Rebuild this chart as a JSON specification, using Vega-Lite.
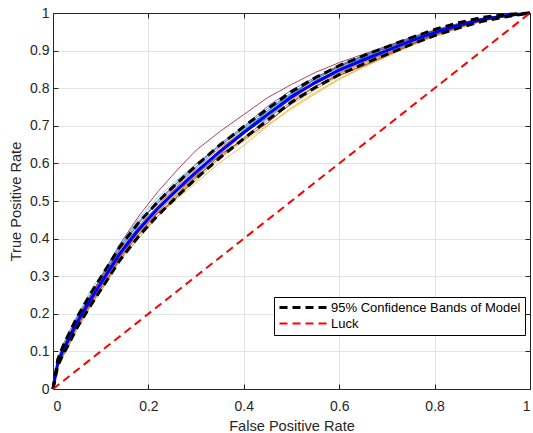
{
  "$schema": "https://vega.github.io/schema/vega-lite/v6.json",
  "width": 477,
  "height": 376,
  "autosize": {"type": "none"},
  "padding": {"left": 53, "top": 13, "right": 3, "bottom": 44},
  "background": "white",
  "config": {
    "view": {"stroke": null},
    "axis": {
      "domainColor": "#262626",
      "tickColor": "#262626",
      "labelColor": "#262626",
      "titleColor": "#262626",
      "labelFont": "Liberation Sans",
      "titleFont": "Liberation Sans",
      "labelFontSize": 14,
      "titleFontSize": 14.6,
      "titleFontWeight": "normal",
      "gridColor": "#e3e3e3"
    },
    "legend": {
      "labelFont": "Liberation Sans",
      "labelFontSize": 13,
      "labelColor": "#000000",
      "labelLimit": 400
    }
  },
  "datasets": {
    "boot": [
      {"r":"r1","x":0,"y":0},{"r":"r1","x":0.01,"y":0.075},{"r":"r1","x":0.02,"y":0.11},{"r":"r1","x":0.03,"y":0.133},{"r":"r1","x":0.05,"y":0.188},{"r":"r1","x":0.08,"y":0.255},{"r":"r1","x":0.11,"y":0.31},{"r":"r1","x":0.14,"y":0.378},{"r":"r1","x":0.18,"y":0.445},{"r":"r1","x":0.22,"y":0.494},{"r":"r1","x":0.26,"y":0.549},{"r":"r1","x":0.3,"y":0.599},{"r":"r1","x":0.35,"y":0.647},{"r":"r1","x":0.4,"y":0.694},{"r":"r1","x":0.45,"y":0.746},{"r":"r1","x":0.5,"y":0.787},{"r":"r1","x":0.55,"y":0.823},{"r":"r1","x":0.6,"y":0.858},{"r":"r1","x":0.65,"y":0.881},{"r":"r1","x":0.7,"y":0.908},{"r":"r1","x":0.75,"y":0.93},{"r":"r1","x":0.8,"y":0.954},{"r":"r1","x":0.85,"y":0.97},{"r":"r1","x":0.9,"y":0.985},{"r":"r1","x":0.95,"y":0.994},{"r":"r1","x":1,"y":1},
      {"r":"r2","x":0,"y":0},{"r":"r2","x":0.01,"y":0.066},{"r":"r2","x":0.02,"y":0.092},{"r":"r2","x":0.03,"y":0.113},{"r":"r2","x":0.05,"y":0.166},{"r":"r2","x":0.08,"y":0.225},{"r":"r2","x":0.11,"y":0.288},{"r":"r2","x":0.14,"y":0.342},{"r":"r2","x":0.18,"y":0.411},{"r":"r2","x":0.22,"y":0.46},{"r":"r2","x":0.26,"y":0.514},{"r":"r2","x":0.3,"y":0.565},{"r":"r2","x":0.35,"y":0.614},{"r":"r2","x":0.4,"y":0.667},{"r":"r2","x":0.45,"y":0.72},{"r":"r2","x":0.5,"y":0.764},{"r":"r2","x":0.55,"y":0.806},{"r":"r2","x":0.6,"y":0.837},{"r":"r2","x":0.65,"y":0.867},{"r":"r2","x":0.7,"y":0.894},{"r":"r2","x":0.75,"y":0.917},{"r":"r2","x":0.8,"y":0.943},{"r":"r2","x":0.85,"y":0.963},{"r":"r2","x":0.9,"y":0.98},{"r":"r2","x":0.95,"y":0.992},{"r":"r2","x":1,"y":1},
      {"r":"r3","x":0,"y":0},{"r":"r3","x":0.01,"y":0.068},{"r":"r3","x":0.02,"y":0.095},{"r":"r3","x":0.03,"y":0.122},{"r":"r3","x":0.05,"y":0.168},{"r":"r3","x":0.08,"y":0.234},{"r":"r3","x":0.11,"y":0.288},{"r":"r3","x":0.14,"y":0.35},{"r":"r3","x":0.18,"y":0.409},{"r":"r3","x":0.22,"y":0.46},{"r":"r3","x":0.26,"y":0.506},{"r":"r3","x":0.3,"y":0.549},{"r":"r3","x":0.35,"y":0.602},{"r":"r3","x":0.4,"y":0.648},{"r":"r3","x":0.45,"y":0.7},{"r":"r3","x":0.5,"y":0.749},{"r":"r3","x":0.55,"y":0.789},{"r":"r3","x":0.6,"y":0.826},{"r":"r3","x":0.65,"y":0.857},{"r":"r3","x":0.7,"y":0.885},{"r":"r3","x":0.75,"y":0.913},{"r":"r3","x":0.8,"y":0.938},{"r":"r3","x":0.85,"y":0.959},{"r":"r3","x":0.9,"y":0.978},{"r":"r3","x":0.95,"y":0.991},{"r":"r3","x":1,"y":1},
      {"r":"r4","x":0,"y":0},{"r":"r4","x":0.01,"y":0.073},{"r":"r4","x":0.02,"y":0.1},{"r":"r4","x":0.03,"y":0.131},{"r":"r4","x":0.05,"y":0.18},{"r":"r4","x":0.08,"y":0.236},{"r":"r4","x":0.11,"y":0.305},{"r":"r4","x":0.14,"y":0.362},{"r":"r4","x":0.18,"y":0.419},{"r":"r4","x":0.22,"y":0.484},{"r":"r4","x":0.26,"y":0.538},{"r":"r4","x":0.3,"y":0.58},{"r":"r4","x":0.35,"y":0.627},{"r":"r4","x":0.4,"y":0.688},{"r":"r4","x":0.45,"y":0.732},{"r":"r4","x":0.5,"y":0.773},{"r":"r4","x":0.55,"y":0.82},{"r":"r4","x":0.6,"y":0.85},{"r":"r4","x":0.65,"y":0.872},{"r":"r4","x":0.7,"y":0.904},{"r":"r4","x":0.75,"y":0.926},{"r":"r4","x":0.8,"y":0.946},{"r":"r4","x":0.85,"y":0.969},{"r":"r4","x":0.9,"y":0.983},{"r":"r4","x":0.95,"y":0.994},{"r":"r4","x":1,"y":1},
      {"r":"r5","x":0,"y":0},{"r":"r5","x":0.01,"y":0.078},{"r":"r5","x":0.02,"y":0.112},{"r":"r5","x":0.03,"y":0.14},{"r":"r5","x":0.05,"y":0.186},{"r":"r5","x":0.08,"y":0.246},{"r":"r5","x":0.11,"y":0.302},{"r":"r5","x":0.14,"y":0.356},{"r":"r5","x":0.18,"y":0.417},{"r":"r5","x":0.22,"y":0.47},{"r":"r5","x":0.26,"y":0.524},{"r":"r5","x":0.3,"y":0.575},{"r":"r5","x":0.35,"y":0.636},{"r":"r5","x":0.4,"y":0.69},{"r":"r5","x":0.45,"y":0.735},{"r":"r5","x":0.5,"y":0.779},{"r":"r5","x":0.55,"y":0.811},{"r":"r5","x":0.6,"y":0.842},{"r":"r5","x":0.65,"y":0.872},{"r":"r5","x":0.7,"y":0.902},{"r":"r5","x":0.75,"y":0.929},{"r":"r5","x":0.8,"y":0.949},{"r":"r5","x":0.85,"y":0.965},{"r":"r5","x":0.9,"y":0.982},{"r":"r5","x":0.95,"y":0.993},{"r":"r5","x":1,"y":1},
      {"r":"r6","x":0,"y":0},{"r":"r6","x":0.01,"y":0.072},{"r":"r6","x":0.02,"y":0.106},{"r":"r6","x":0.03,"y":0.129},{"r":"r6","x":0.05,"y":0.185},{"r":"r6","x":0.08,"y":0.252},{"r":"r6","x":0.11,"y":0.316},{"r":"r6","x":0.14,"y":0.382},{"r":"r6","x":0.18,"y":0.453},{"r":"r6","x":0.22,"y":0.51},{"r":"r6","x":0.26,"y":0.556},{"r":"r6","x":0.3,"y":0.597},{"r":"r6","x":0.35,"y":0.646},{"r":"r6","x":0.4,"y":0.69},{"r":"r6","x":0.45,"y":0.734},{"r":"r6","x":0.5,"y":0.783},{"r":"r6","x":0.55,"y":0.817},{"r":"r6","x":0.6,"y":0.846},{"r":"r6","x":0.65,"y":0.87},{"r":"r6","x":0.7,"y":0.896},{"r":"r6","x":0.75,"y":0.919},{"r":"r6","x":0.8,"y":0.945},{"r":"r6","x":0.85,"y":0.966},{"r":"r6","x":0.9,"y":0.983},{"r":"r6","x":0.95,"y":0.993},{"r":"r6","x":1,"y":1},
      {"r":"r7","x":0,"y":0},{"r":"r7","x":0.01,"y":0.075},{"r":"r7","x":0.02,"y":0.105},{"r":"r7","x":0.03,"y":0.13},{"r":"r7","x":0.05,"y":0.18},{"r":"r7","x":0.08,"y":0.25},{"r":"r7","x":0.11,"y":0.318},{"r":"r7","x":0.14,"y":0.385},{"r":"r7","x":0.18,"y":0.46},{"r":"r7","x":0.22,"y":0.525},{"r":"r7","x":0.26,"y":0.582},{"r":"r7","x":0.3,"y":0.635},{"r":"r7","x":0.35,"y":0.685},{"r":"r7","x":0.4,"y":0.73},{"r":"r7","x":0.45,"y":0.775},{"r":"r7","x":0.5,"y":0.81},{"r":"r7","x":0.55,"y":0.842},{"r":"r7","x":0.6,"y":0.868},{"r":"r7","x":0.65,"y":0.89},{"r":"r7","x":0.7,"y":0.912},{"r":"r7","x":0.75,"y":0.935},{"r":"r7","x":0.8,"y":0.955},{"r":"r7","x":0.85,"y":0.972},{"r":"r7","x":0.9,"y":0.986},{"r":"r7","x":0.95,"y":0.995},{"r":"r7","x":1,"y":1},
      {"r":"r8","x":0,"y":0},{"r":"r8","x":0.01,"y":0.064},{"r":"r8","x":0.02,"y":0.09},{"r":"r8","x":0.03,"y":0.119},{"r":"r8","x":0.05,"y":0.174},{"r":"r8","x":0.08,"y":0.244},{"r":"r8","x":0.11,"y":0.297},{"r":"r8","x":0.14,"y":0.352},{"r":"r8","x":0.18,"y":0.421},{"r":"r8","x":0.22,"y":0.482},{"r":"r8","x":0.26,"y":0.525},{"r":"r8","x":0.3,"y":0.567},{"r":"r8","x":0.35,"y":0.626},{"r":"r8","x":0.4,"y":0.68},{"r":"r8","x":0.45,"y":0.722},{"r":"r8","x":0.5,"y":0.772},{"r":"r8","x":0.55,"y":0.817},{"r":"r8","x":0.6,"y":0.852},{"r":"r8","x":0.65,"y":0.881},{"r":"r8","x":0.7,"y":0.902},{"r":"r8","x":0.75,"y":0.923},{"r":"r8","x":0.8,"y":0.949},{"r":"r8","x":0.85,"y":0.97},{"r":"r8","x":0.9,"y":0.985},{"r":"r8","x":0.95,"y":0.993},{"r":"r8","x":1,"y":1},
      {"r":"r9","x":0,"y":0},{"r":"r9","x":0.01,"y":0.08},{"r":"r9","x":0.02,"y":0.114},{"r":"r9","x":0.03,"y":0.135},{"r":"r9","x":0.05,"y":0.182},{"r":"r9","x":0.08,"y":0.25},{"r":"r9","x":0.11,"y":0.314},{"r":"r9","x":0.14,"y":0.37},{"r":"r9","x":0.18,"y":0.43},{"r":"r9","x":0.22,"y":0.488},{"r":"r9","x":0.26,"y":0.542},{"r":"r9","x":0.3,"y":0.585},{"r":"r9","x":0.35,"y":0.642},{"r":"r9","x":0.4,"y":0.685},{"r":"r9","x":0.45,"y":0.728},{"r":"r9","x":0.5,"y":0.781},{"r":"r9","x":0.55,"y":0.825},{"r":"r9","x":0.6,"y":0.856},{"r":"r9","x":0.65,"y":0.885},{"r":"r9","x":0.7,"y":0.906},{"r":"r9","x":0.75,"y":0.929},{"r":"r9","x":0.8,"y":0.954},{"r":"r9","x":0.85,"y":0.971},{"r":"r9","x":0.9,"y":0.986},{"r":"r9","x":0.95,"y":0.994},{"r":"r9","x":1,"y":1},
      {"r":"r10","x":0,"y":0},{"r":"r10","x":0.01,"y":0.062},{"r":"r10","x":0.02,"y":0.088},{"r":"r10","x":0.03,"y":0.115},{"r":"r10","x":0.05,"y":0.162},{"r":"r10","x":0.08,"y":0.222},{"r":"r10","x":0.11,"y":0.28},{"r":"r10","x":0.14,"y":0.344},{"r":"r10","x":0.18,"y":0.413},{"r":"r10","x":0.22,"y":0.472},{"r":"r10","x":0.26,"y":0.52},{"r":"r10","x":0.3,"y":0.563},{"r":"r10","x":0.35,"y":0.614},{"r":"r10","x":0.4,"y":0.66},{"r":"r10","x":0.45,"y":0.702},{"r":"r10","x":0.5,"y":0.745},{"r":"r10","x":0.55,"y":0.785},{"r":"r10","x":0.6,"y":0.823},{"r":"r10","x":0.65,"y":0.855},{"r":"r10","x":0.7,"y":0.884},{"r":"r10","x":0.75,"y":0.913},{"r":"r10","x":0.8,"y":0.938},{"r":"r10","x":0.85,"y":0.96},{"r":"r10","x":0.9,"y":0.979},{"r":"r10","x":0.95,"y":0.991},{"r":"r10","x":1,"y":1},
      {"r":"r11","x":0,"y":0},{"r":"r11","x":0.01,"y":0.082},{"r":"r11","x":0.02,"y":0.116},{"r":"r11","x":0.03,"y":0.145},{"r":"r11","x":0.05,"y":0.194},{"r":"r11","x":0.08,"y":0.264},{"r":"r11","x":0.11,"y":0.32},{"r":"r11","x":0.14,"y":0.386},{"r":"r11","x":0.18,"y":0.447},{"r":"r11","x":0.22,"y":0.498},{"r":"r11","x":0.26,"y":0.544},{"r":"r11","x":0.3,"y":0.587},{"r":"r11","x":0.35,"y":0.648},{"r":"r11","x":0.4,"y":0.694},{"r":"r11","x":0.45,"y":0.738},{"r":"r11","x":0.5,"y":0.789},{"r":"r11","x":0.55,"y":0.824},{"r":"r11","x":0.6,"y":0.854},{"r":"r11","x":0.65,"y":0.883},{"r":"r11","x":0.7,"y":0.905},{"r":"r11","x":0.75,"y":0.929},{"r":"r11","x":0.8,"y":0.952},{"r":"r11","x":0.85,"y":0.969},{"r":"r11","x":0.9,"y":0.984},{"r":"r11","x":0.95,"y":0.993},{"r":"r11","x":1,"y":1},
      {"r":"r12","x":0,"y":0},{"r":"r12","x":0.01,"y":0.06},{"r":"r12","x":0.02,"y":0.086},{"r":"r12","x":0.03,"y":0.107},{"r":"r12","x":0.05,"y":0.156},{"r":"r12","x":0.08,"y":0.224},{"r":"r12","x":0.11,"y":0.278},{"r":"r12","x":0.14,"y":0.342},{"r":"r12","x":0.18,"y":0.401},{"r":"r12","x":0.22,"y":0.46},{"r":"r12","x":0.26,"y":0.512},{"r":"r12","x":0.3,"y":0.555},{"r":"r12","x":0.35,"y":0.616},{"r":"r12","x":0.4,"y":0.67},{"r":"r12","x":0.45,"y":0.714},{"r":"r12","x":0.5,"y":0.757},{"r":"r12","x":0.55,"y":0.797},{"r":"r12","x":0.6,"y":0.833},{"r":"r12","x":0.65,"y":0.863},{"r":"r12","x":0.7,"y":0.89},{"r":"r12","x":0.75,"y":0.917},{"r":"r12","x":0.8,"y":0.941},{"r":"r12","x":0.85,"y":0.962},{"r":"r12","x":0.9,"y":0.979},{"r":"r12","x":0.95,"y":0.991},{"r":"r12","x":1,"y":1},
      {"r":"r13","x":0,"y":0},{"r":"r13","x":0.01,"y":0.076},{"r":"r13","x":0.02,"y":0.104},{"r":"r13","x":0.03,"y":0.135},{"r":"r13","x":0.05,"y":0.19},{"r":"r13","x":0.08,"y":0.25},{"r":"r13","x":0.11,"y":0.306},{"r":"r13","x":0.14,"y":0.372},{"r":"r13","x":0.18,"y":0.441},{"r":"r13","x":0.22,"y":0.502},{"r":"r13","x":0.26,"y":0.548},{"r":"r13","x":0.3,"y":0.591},{"r":"r13","x":0.35,"y":0.652},{"r":"r13","x":0.4,"y":0.698},{"r":"r13","x":0.45,"y":0.752},{"r":"r13","x":0.5,"y":0.795},{"r":"r13","x":0.55,"y":0.829},{"r":"r13","x":0.6,"y":0.858},{"r":"r13","x":0.65,"y":0.887},{"r":"r13","x":0.7,"y":0.908},{"r":"r13","x":0.75,"y":0.931},{"r":"r13","x":0.8,"y":0.953},{"r":"r13","x":0.85,"y":0.97},{"r":"r13","x":0.9,"y":0.985},{"r":"r13","x":0.95,"y":0.994},{"r":"r13","x":1,"y":1},
      {"r":"r14","x":0,"y":0},{"r":"r14","x":0.01,"y":0.066},{"r":"r14","x":0.02,"y":0.102},{"r":"r14","x":0.03,"y":0.119},{"r":"r14","x":0.05,"y":0.164},{"r":"r14","x":0.08,"y":0.232},{"r":"r14","x":0.11,"y":0.284},{"r":"r14","x":0.14,"y":0.348},{"r":"r14","x":0.18,"y":0.419},{"r":"r14","x":0.22,"y":0.468},{"r":"r14","x":0.26,"y":0.51},{"r":"r14","x":0.3,"y":0.561},{"r":"r14","x":0.35,"y":0.622},{"r":"r14","x":0.4,"y":0.664},{"r":"r14","x":0.45,"y":0.708},{"r":"r14","x":0.5,"y":0.761},{"r":"r14","x":0.55,"y":0.805},{"r":"r14","x":0.6,"y":0.834},{"r":"r14","x":0.65,"y":0.859},{"r":"r14","x":0.7,"y":0.888},{"r":"r14","x":0.75,"y":0.915},{"r":"r14","x":0.8,"y":0.942},{"r":"r14","x":0.85,"y":0.962},{"r":"r14","x":0.9,"y":0.98},{"r":"r14","x":0.95,"y":0.992},{"r":"r14","x":1,"y":1},
      {"r":"r15","x":0,"y":0},{"r":"r15","x":0.01,"y":0.072},{"r":"r15","x":0.02,"y":0.108},{"r":"r15","x":0.03,"y":0.129},{"r":"r15","x":0.05,"y":0.172},{"r":"r15","x":0.08,"y":0.242},{"r":"r15","x":0.11,"y":0.308},{"r":"r15","x":0.14,"y":0.364},{"r":"r15","x":0.18,"y":0.435},{"r":"r15","x":0.22,"y":0.486},{"r":"r15","x":0.26,"y":0.53},{"r":"r15","x":0.3,"y":0.571},{"r":"r15","x":0.35,"y":0.63},{"r":"r15","x":0.4,"y":0.686},{"r":"r15","x":0.45,"y":0.74},{"r":"r15","x":0.5,"y":0.783},{"r":"r15","x":0.55,"y":0.827},{"r":"r15","x":0.6,"y":0.862},{"r":"r15","x":0.65,"y":0.885},{"r":"r15","x":0.7,"y":0.912},{"r":"r15","x":0.75,"y":0.933},{"r":"r15","x":0.8,"y":0.953},{"r":"r15","x":0.85,"y":0.971},{"r":"r15","x":0.9,"y":0.985},{"r":"r15","x":0.95,"y":0.994},{"r":"r15","x":1,"y":1},
      {"r":"r16","x":0,"y":0},{"r":"r16","x":0.01,"y":0.058},{"r":"r16","x":0.02,"y":0.084},{"r":"r16","x":0.03,"y":0.111},{"r":"r16","x":0.05,"y":0.168},{"r":"r16","x":0.08,"y":0.228},{"r":"r16","x":0.11,"y":0.294},{"r":"r16","x":0.14,"y":0.35},{"r":"r16","x":0.18,"y":0.411},{"r":"r16","x":0.22,"y":0.472},{"r":"r16","x":0.26,"y":0.518},{"r":"r16","x":0.3,"y":0.571},{"r":"r16","x":0.35,"y":0.622},{"r":"r16","x":0.4,"y":0.678},{"r":"r16","x":0.45,"y":0.73},{"r":"r16","x":0.5,"y":0.771},{"r":"r16","x":0.55,"y":0.803},{"r":"r16","x":0.6,"y":0.84},{"r":"r16","x":0.65,"y":0.871},{"r":"r16","x":0.7,"y":0.892},{"r":"r16","x":0.75,"y":0.919},{"r":"r16","x":0.8,"y":0.94},{"r":"r16","x":0.85,"y":0.961},{"r":"r16","x":0.9,"y":0.979},{"r":"r16","x":0.95,"y":0.991},{"r":"r16","x":1,"y":1}
    ],
    "mean": [
      {"x":0,"y":0},{"x":0.01,"y":0.07},{"x":0.02,"y":0.1},{"x":0.03,"y":0.125},{"x":0.05,"y":0.176},{"x":0.08,"y":0.24},{"x":0.11,"y":0.3},{"x":0.14,"y":0.36},{"x":0.18,"y":0.425},{"x":0.22,"y":0.48},{"x":0.26,"y":0.53},{"x":0.3,"y":0.577},{"x":0.35,"y":0.632},{"x":0.4,"y":0.682},{"x":0.45,"y":0.73},{"x":0.5,"y":0.777},{"x":0.55,"y":0.815},{"x":0.6,"y":0.848},{"x":0.65,"y":0.875},{"x":0.7,"y":0.9},{"x":0.75,"y":0.925},{"x":0.8,"y":0.948},{"x":0.85,"y":0.967},{"x":0.9,"y":0.983},{"x":0.95,"y":0.993},{"x":1,"y":1}
    ],
    "ref": [
      {"s":"95% Confidence Bands of Model","p":"up","x":0,"y":0},{"s":"95% Confidence Bands of Model","p":"up","x":0.01,"y":0.079},{"s":"95% Confidence Bands of Model","p":"up","x":0.02,"y":0.111},{"s":"95% Confidence Bands of Model","p":"up","x":0.03,"y":0.138},{"s":"95% Confidence Bands of Model","p":"up","x":0.05,"y":0.19},{"s":"95% Confidence Bands of Model","p":"up","x":0.08,"y":0.256},{"s":"95% Confidence Bands of Model","p":"up","x":0.11,"y":0.317},{"s":"95% Confidence Bands of Model","p":"up","x":0.14,"y":0.378},{"s":"95% Confidence Bands of Model","p":"up","x":0.18,"y":0.443},{"s":"95% Confidence Bands of Model","p":"up","x":0.22,"y":0.498},{"s":"95% Confidence Bands of Model","p":"up","x":0.26,"y":0.548},{"s":"95% Confidence Bands of Model","p":"up","x":0.3,"y":0.594},{"s":"95% Confidence Bands of Model","p":"up","x":0.35,"y":0.649},{"s":"95% Confidence Bands of Model","p":"up","x":0.4,"y":0.698},{"s":"95% Confidence Bands of Model","p":"up","x":0.45,"y":0.745},{"s":"95% Confidence Bands of Model","p":"up","x":0.5,"y":0.791},{"s":"95% Confidence Bands of Model","p":"up","x":0.55,"y":0.828},{"s":"95% Confidence Bands of Model","p":"up","x":0.6,"y":0.86},{"s":"95% Confidence Bands of Model","p":"up","x":0.65,"y":0.886},{"s":"95% Confidence Bands of Model","p":"up","x":0.7,"y":0.91},{"s":"95% Confidence Bands of Model","p":"up","x":0.75,"y":0.934},{"s":"95% Confidence Bands of Model","p":"up","x":0.8,"y":0.956},{"s":"95% Confidence Bands of Model","p":"up","x":0.85,"y":0.974},{"s":"95% Confidence Bands of Model","p":"up","x":0.9,"y":0.988},{"s":"95% Confidence Bands of Model","p":"up","x":0.95,"y":0.996},{"s":"95% Confidence Bands of Model","p":"up","x":1,"y":1},
      {"s":"95% Confidence Bands of Model","p":"lo","x":0,"y":0},{"s":"95% Confidence Bands of Model","p":"lo","x":0.01,"y":0.061},{"s":"95% Confidence Bands of Model","p":"lo","x":0.02,"y":0.089},{"s":"95% Confidence Bands of Model","p":"lo","x":0.03,"y":0.112},{"s":"95% Confidence Bands of Model","p":"lo","x":0.05,"y":0.162},{"s":"95% Confidence Bands of Model","p":"lo","x":0.08,"y":0.224},{"s":"95% Confidence Bands of Model","p":"lo","x":0.11,"y":0.283},{"s":"95% Confidence Bands of Model","p":"lo","x":0.14,"y":0.342},{"s":"95% Confidence Bands of Model","p":"lo","x":0.18,"y":0.407},{"s":"95% Confidence Bands of Model","p":"lo","x":0.22,"y":0.462},{"s":"95% Confidence Bands of Model","p":"lo","x":0.26,"y":0.512},{"s":"95% Confidence Bands of Model","p":"lo","x":0.3,"y":0.56},{"s":"95% Confidence Bands of Model","p":"lo","x":0.35,"y":0.615},{"s":"95% Confidence Bands of Model","p":"lo","x":0.4,"y":0.666},{"s":"95% Confidence Bands of Model","p":"lo","x":0.45,"y":0.715},{"s":"95% Confidence Bands of Model","p":"lo","x":0.5,"y":0.763},{"s":"95% Confidence Bands of Model","p":"lo","x":0.55,"y":0.802},{"s":"95% Confidence Bands of Model","p":"lo","x":0.6,"y":0.836},{"s":"95% Confidence Bands of Model","p":"lo","x":0.65,"y":0.864},{"s":"95% Confidence Bands of Model","p":"lo","x":0.7,"y":0.89},{"s":"95% Confidence Bands of Model","p":"lo","x":0.75,"y":0.916},{"s":"95% Confidence Bands of Model","p":"lo","x":0.8,"y":0.94},{"s":"95% Confidence Bands of Model","p":"lo","x":0.85,"y":0.96},{"s":"95% Confidence Bands of Model","p":"lo","x":0.9,"y":0.978},{"s":"95% Confidence Bands of Model","p":"lo","x":0.95,"y":0.99},{"s":"95% Confidence Bands of Model","p":"lo","x":1,"y":1},
      {"s":"Luck","p":"luck","x":0,"y":0},{"s":"Luck","p":"luck","x":1,"y":1}
    ]
  },
  "resolve": {"axis": {"x": "independent", "y": "independent"}},
  "layer": [
    {
      "data": {"name": "boot"},
      "mark": {"type": "line", "strokeWidth": 0.9, "opacity": 0.9},
      "encoding": {
        "x": {"field": "x", "type": "quantitative", "scale": {"domain": [0, 1], "nice": false},
              "axis": {"orient": "bottom", "title": "False Positive Rate", "grid": true, "ticks": false, "values": [0, 0.2, 0.4, 0.6, 0.8, 1], "format": "~g", "labelPadding": 10, "titlePadding": 5}},
        "y": {"field": "y", "type": "quantitative", "scale": {"domain": [0, 1], "nice": false},
              "axis": {"orient": "left", "title": "True Positive Rate", "grid": true, "ticks": false, "values": [0, 0.1, 0.2, 0.3, 0.4, 0.5, 0.6, 0.7, 0.8, 0.9, 1], "format": "~g", "labelPadding": 4, "titlePadding": 6}},
        "stroke": {"field": "r", "type": "nominal", "legend": null,
                   "scale": {"domain": ["r1","r2","r3","r4","r5","r6","r7","r8","r9","r10","r11","r12","r13","r14","r15","r16"],
                             "range": ["#0072BD","#D95319","#EDB120","#7E2F8E","#77AC30","#4DBEEE","#A2142F","#0072BD","#D95319","#EDB120","#4DBEEE","#77AC30","#7E2F8E","#A2142F","#0072BD","#D95319"]}}
      }
    },
    {
      "data": {"name": "mean"},
      "mark": {"type": "line", "strokeWidth": 3, "color": "#0000FF"},
      "encoding": {
        "x": {"field": "x", "type": "quantitative",
              "axis": {"orient": "top", "title": null, "labels": false, "grid": false, "tickSize": -5, "values": [0, 0.2, 0.4, 0.6, 0.8, 1]}},
        "y": {"field": "y", "type": "quantitative",
              "axis": {"orient": "right", "title": null, "labels": false, "grid": false, "tickSize": -5, "values": [0, 0.1, 0.2, 0.3, 0.4, 0.5, 0.6, 0.7, 0.8, 0.9, 1]}}
      }
    },
    {
      "data": {"name": "ref"},
      "mark": {"type": "line"},
      "encoding": {
        "x": {"field": "x", "type": "quantitative",
              "axis": {"orient": "bottom", "title": null, "labels": false, "grid": false, "domain": false, "tickSize": -5, "values": [0, 0.2, 0.4, 0.6, 0.8, 1]}},
        "y": {"field": "y", "type": "quantitative",
              "axis": {"orient": "left", "title": null, "labels": false, "grid": false, "domain": false, "tickSize": -5, "values": [0, 0.1, 0.2, 0.3, 0.4, 0.5, 0.6, 0.7, 0.8, 0.9, 1]}},
        "detail": {"field": "p"},
        "color": {"field": "s", "type": "nominal",
                  "scale": {"domain": ["95% Confidence Bands of Model", "Luck"], "range": ["#000000", "#FF0000"]},
                  "legend": {"title": null, "orient": "none", "legendX": 221, "legendY": 284, "direction": "vertical",
                             "symbolType": "M-1,0H8.4", "symbolSize": 100, "symbolStrokeWidth": 2,
                             "strokeColor": "#000000", "fillColor": "#ffffff", "padding": 4, "rowPadding": 2, "labelOffset": 40}},
        "strokeDash": {"field": "s", "type": "nominal",
                       "scale": {"domain": ["95% Confidence Bands of Model", "Luck"], "range": [[8, 5], [8, 5]]},
                       "legend": {"title": null, "orient": "none", "legendX": 221, "legendY": 284, "direction": "vertical",
                                  "symbolType": "M-1,0H8.4", "symbolSize": 100, "symbolStrokeWidth": 2,
                                  "strokeColor": "#000000", "fillColor": "#ffffff", "padding": 4, "rowPadding": 2, "labelOffset": 40}},
        "strokeWidth": {"field": "s", "type": "nominal", "legend": null,
                        "scale": {"domain": ["95% Confidence Bands of Model", "Luck"], "range": [3, 2]}}
      }
    }
  ]
}
